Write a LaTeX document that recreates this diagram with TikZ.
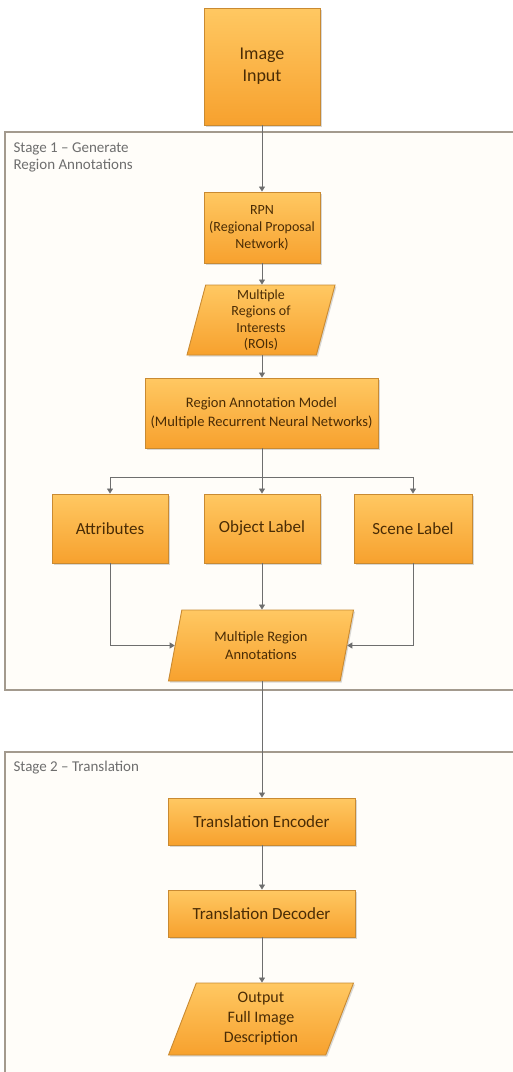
\documentclass[tikz,border=0pt]{standalone}
\usepackage{fontspec}
\setmainfont{Carlito}
\usetikzlibrary{arrows.meta,shapes.geometric,shadows}
\definecolor{boxtop}{HTML}{FFC862}
\definecolor{boxbot}{HTML}{F7A12E}
\definecolor{boxline}{HTML}{C98A32}
\definecolor{txt}{HTML}{4A2C05}
\definecolor{framecol}{HTML}{A39A8E}
\definecolor{arrcol}{HTML}{6E6E6E}
\definecolor{stagetxt}{HTML}{6E6E6E}
\definecolor{bgcol}{HTML}{FFFDF9}
\begin{document}
\begin{tikzpicture}[x=1pt,y=-1pt,
  shade/.style={drop shadow={opacity=0.3,shadow xshift=1.5pt,shadow yshift=-1.5pt}},
  box/.style={rectangle, draw=boxline, line width=0.9pt, top color=boxtop, bottom color=boxbot,
    text=txt, align=center, inner sep=2pt, shade},
  pgram/.style={trapezium, trapezium stretches body=true, draw=boxline, line width=0.9pt,
    top color=boxtop, bottom color=boxbot, text=txt, align=center, inner sep=2pt, shade},
  arr/.style={draw=arrcol, line width=0.8pt, -{Triangle[width=6pt,length=5pt]}},
  ln/.style={draw=arrcol, line width=0.8pt},
  frame/.style={draw=framecol, line width=1.4pt, fill=bgcol},
  stagelabel/.style={anchor=north west, text=stagetxt, align=left,
    font=\fontsize{15}{17}\selectfont}
]
\useasboundingbox[fill=white] (0,0) rectangle (513,1072);

% stage frames
\draw[frame] (5,132) rectangle (530,690);
\draw[frame] (5,752) rectangle (530,1095);
\node[stagelabel] (s1) at (10,139) {Stage 1 -- Generate\\Region Annotations};
\node[stagelabel] (s2) at (10,758) {Stage 2 -- Translation};

% nodes
\node[box, minimum width=116pt, minimum height=117pt, font=\fontsize{18}{22}\selectfont]
  (img) at (262,66.5) {Image\\Input};
\node[box, minimum width=116pt, minimum height=71pt, font=\fontsize{14}{17}\selectfont]
  (rpn) at (262,227.5) {RPN\\(Regional Proposal\\Network)};
\node[pgram, trapezium left angle=74, trapezium right angle=106,
  minimum width=148pt, minimum height=70pt, font=\fontsize{14}{16.5}\selectfont]
  (roi) at (261,320) {Multiple\\Regions of\\Interests\\(ROIs)};
\node[box, minimum width=233pt, minimum height=70pt, font=\fontsize{14.5}{19.5}\selectfont]
  (ram) at (261.5,413) {Region Annotation Model\\(Multiple Recurrent Neural Networks)};
\node[box, minimum width=116pt, minimum height=69pt, font=\fontsize{17}{20}\selectfont]
  (attr) at (110,528.5) {Attributes};
\node[box, minimum width=116pt, minimum height=69pt, font=\fontsize{17}{20}\selectfont]
  (obj) at (262,528.5) {Object Label};
\node[box, minimum width=118pt, minimum height=69pt, font=\fontsize{17}{20}\selectfont]
  (scene) at (413,528.5) {Scene Label};
\node[pgram, trapezium left angle=67.5, trapezium right angle=112.5,
  minimum width=185pt, minimum height=71pt, font=\fontsize{14.5}{18}\selectfont]
  (mra) at (261,645.5) {Multiple Region\\Annotations};
\node[box, minimum width=187pt, minimum height=47pt, font=\fontsize{17}{20}\selectfont]
  (te) at (261.5,821.5) {Translation Encoder};
\node[box, minimum width=187pt, minimum height=47pt, font=\fontsize{17}{20}\selectfont]
  (td) at (261.5,913.5) {Translation Decoder};
\node[pgram, trapezium left angle=64, trapezium right angle=116,
  minimum width=185pt, minimum height=72pt, font=\fontsize{16}{20}\selectfont]
  (out) at (261,1019) {Output\\Full Image\\Description};

% connectors
\coordinate (br) at (262,477);
\draw[arr] (img.south) -- (rpn.north);
\draw[arr] (rpn.south) -- (rpn.south |- roi.north);
\draw[arr] (rpn.south |- roi.south) -- (rpn.south |- ram.north);
\draw[ln] (rpn.south |- ram.south) -- (br);
\draw[arr] (br) -| (attr.north);
\draw[arr] (br) -- (obj.north);
\draw[arr] (br) -| (scene.north);
\draw[arr] (obj.south) -- (obj.south |- mra.north);
\draw[arr] (attr.south) |- (mra.west);
\draw[arr] (scene.south) |- (mra.east);
\draw[arr] (obj.south |- mra.south) -- (obj.south |- te.north);
\draw[arr] (obj.south |- te.south) -- (obj.south |- td.north);
\draw[arr] (obj.south |- td.south) -- (obj.south |- out.north);
\end{tikzpicture}
\end{document}
